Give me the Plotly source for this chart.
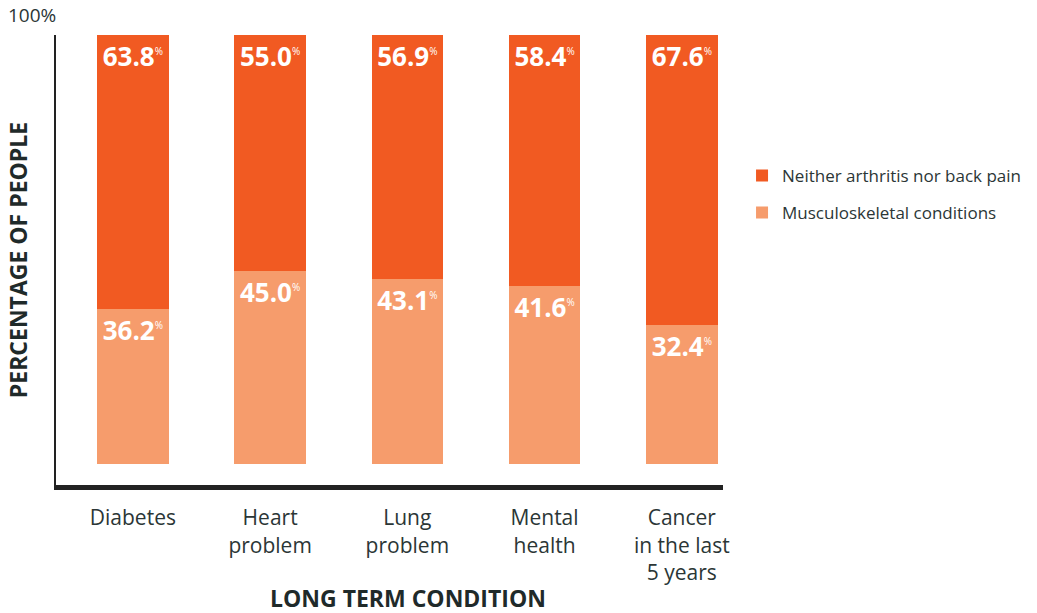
import plotly.graph_objects as go

conditions = ["Diabetes", "Heart<br>problem", "Lung<br>problem", "Mental<br>health", "Cancer<br>in the last<br>5 years"]
musculo = [36.2, 45.0, 43.1, 41.6, 32.4]
neither = [63.8, 55.0, 56.9, 58.4, 67.6]

dark = "#F15A22"
light = "#F69C6C"
txt = "#2B3636"
font = "Open Sans"

def labels(vals):
    return ["<b>%.1f</b><sup><span style='font-size:10px'>%%</span></sup>" % v for v in vals]

fig = go.Figure()
fig.add_trace(go.Bar(
    x=conditions, y=musculo, name="Musculoskeletal conditions",
    marker=dict(color=light, line=dict(width=0)),
    text=labels(musculo), textposition="inside", insidetextanchor="end",
    textfont=dict(color="white", size=26, family=font),
    width=0.52, hoverinfo="skip", legendgroup="m", legendrank=2,
))
fig.add_trace(go.Bar(
    x=conditions, y=neither, name="Neither arthritis nor back pain",
    marker=dict(color=dark, line=dict(width=0)),
    text=labels(neither), textposition="inside", insidetextanchor="end",
    textfont=dict(color="white", size=26, family=font),
    width=0.52, hoverinfo="skip", legendgroup="n", legendrank=1,
))

fig.update_layout(
    barmode="stack",
    width=1037, height=613,
    margin=dict(l=56, r=313, t=35, b=128),
    plot_bgcolor="white", paper_bgcolor="white",
    font=dict(family=font, color=txt, size=16),
    legend=dict(
        x=1.027, y=0.727, xanchor="left", yanchor="top",
        traceorder="grouped", font=dict(size=17, color=txt),
        itemsizing="constant", itemwidth=30, tracegroupgap=12,
    ),
    xaxis=dict(
        range=[-0.56, 4.3], showgrid=False, automargin=False,
        showline=True, linecolor="#222222", linewidth=5,
        ticks="", tickfont=dict(size=21, color=txt), ticklabelstandoff=10,
    ),
    yaxis=dict(
        range=[-4.8, 100], showgrid=False, zeroline=False, automargin=False,
        showline=True, linecolor="#222222", linewidth=2,
        showticklabels=False, ticks="",
        title=dict(text="<b>PERCENTAGE OF PEOPLE</b>", font=dict(size=23, color="#1f2a2a"), standoff=20),
    ),
    annotations=[
        dict(text="100%", x=0, y=1.044, xref="paper", yref="paper",
             xanchor="right", yanchor="middle", showarrow=False, xshift=2,
             font=dict(size=19, color=txt)),
        # x-axis title sits a little right of the plot centre in the original
        dict(text="<b>LONG TERM CONDITION</b>", x=0.527, y=-0.251, xref="paper", yref="paper",
             xanchor="center", yanchor="middle", showarrow=False,
             font=dict(size=23, color="#1f2a2a")),
    ],
)

# drop the default 8px page margin so the figure fills the window
fig.write_html("out.html", config={"displayModeBar": False},
               post_script="document.body.style.margin='0';")
